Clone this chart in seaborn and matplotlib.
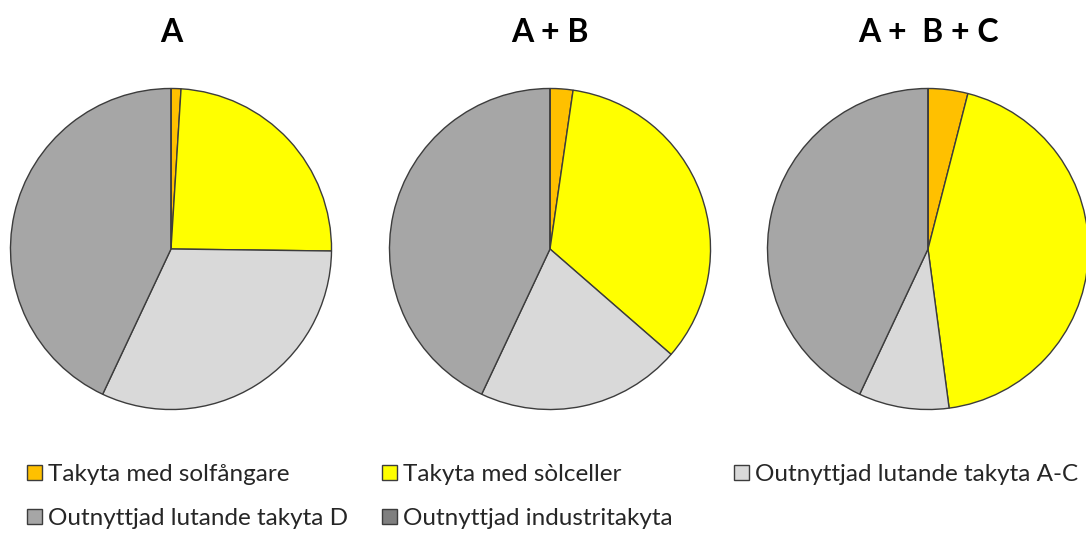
import matplotlib
matplotlib.use("Agg")
import matplotlib.pyplot as plt
from matplotlib.patches import Patch
import seaborn as sns

# Share of roof area (%) per scenario
categories = [
    "Takyta med solfångare",
    "Takyta med sòlceller",
    "Outnyttjad lutande takyta A-C",
    "Outnyttjad lutande takyta D",
    "Outnyttjad industritakyta",
]
scenario_titles = ["A", "A + B", "A +  B + C"]
share_a = [1.0, 24.2, 31.8, 43.0, 0.0]
share_ab = [2.3, 34.1, 20.6, 43.0, 0.0]
share_abc = [4.0, 43.9, 9.1, 43.0, 0.0]
scenario_values = [share_a, share_ab, share_abc]

colors = ["#FFC000", "#FFFF00", "#D9D9D9", "#A6A6A6", "#7F7F7F"]
edge = "#3c3c3c"

sns.set_theme(style="white")
plt.rcParams["font.family"] = ["Lato", "DejaVu Sans"]

W, H = 1086, 535
fig = plt.figure(figsize=(W / 100, H / 100), dpi=100)
fig.patch.set_facecolor("white")

centers_x = [171, 550, 928]
center_y = 249
radius = 161

for cx, title, vals in zip(centers_x, scenario_titles, scenario_values):
    ax = fig.add_axes([(cx - radius) / W, (H - center_y - radius) / H,
                       2 * radius / W, 2 * radius / H])
    ax.pie(vals, colors=colors, startangle=90, counterclock=False,
           radius=1.0,
           wedgeprops=dict(edgecolor=edge, linewidth=1.0))
    ax.set_xlim(-1.003, 1.003)
    ax.set_ylim(-1.003, 1.003)
    ax.set_aspect("equal")
    ax.axis("off")
    fig.text(cx / W, 1 - 33 / H, title, ha="center", va="center",
             fontsize=23, fontweight="bold", color="black")

# Legend laid out in three evenly spaced columns
handles = [Patch(facecolor=c, edgecolor=edge, linewidth=1.0) for c in colors]
columns = [[0, 3], [1, 4], [2]]
col_x = [27, 382, 734]
for idxs, x in zip(columns, col_x):
    leg = fig.legend([handles[i] for i in idxs], [categories[i] for i in idxs],
                     loc="upper left", bbox_to_anchor=(x / W, 1 - 464 / H),
                     frameon=False, fontsize=17.5, handlelength=0.6,
                     handleheight=0.6, handletextpad=0.28, labelspacing=0.95,
                     borderpad=0, borderaxespad=0)
    for t in leg.get_texts():
        t.set_color("#262626")

fig.savefig("out.png", dpi=100, facecolor="white")
